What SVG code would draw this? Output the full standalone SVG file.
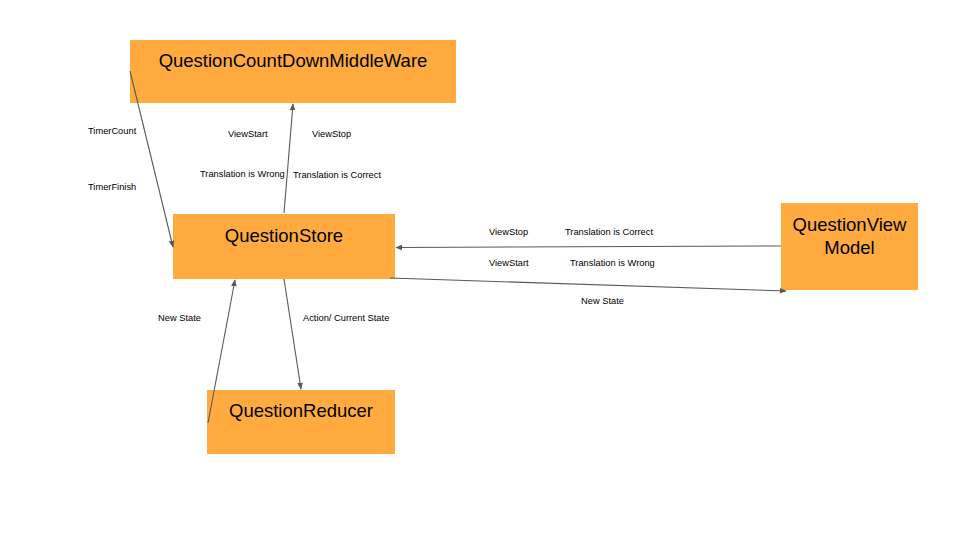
<svg xmlns="http://www.w3.org/2000/svg" width="960" height="540" viewBox="0 0 960 540">
<style>
.box{fill:#FFAB40;}
.t{font-family:"Liberation Sans",Arial,sans-serif;font-size:18.5px;fill:#000;text-anchor:middle;}
.l{font-family:"Liberation Sans",Arial,sans-serif;font-size:9.3px;fill:#000;}
.c{stroke:#595959;stroke-width:1.1;fill:none;marker-end:url(#ah);}
</style>
<defs>
<marker id="ah" viewBox="0 0 10 10" refX="9" refY="5" markerWidth="7" markerHeight="7" markerUnits="userSpaceOnUse" orient="auto">
<path d="M0,1 L10,5 L0,9 z" fill="#595959"/>
</marker>
</defs>
<rect width="960" height="540" fill="#fff"/>
<g id="countdown"><rect class="box" x="130" y="40" width="326" height="63"/><text class="t" x="293" y="66.5">QuestionCountDownMiddleWare</text></g>
<g id="store"><rect class="box" x="173" y="214" width="222" height="65"/><text class="t" x="284" y="242">QuestionStore</text></g>
<g id="viewmodel"><rect class="box" x="781" y="203" width="137" height="87"/><text class="t" x="849.5" y="231">QuestionView</text><text class="t" x="849.5" y="253.5">Model</text></g>
<g id="reducer"><rect class="box" x="207" y="390" width="188" height="64"/><text class="t" x="301" y="417">QuestionReducer</text></g>
<g id="connectors">
<line class="c" x1="130" y1="71" x2="173" y2="247"/>
<line class="c" x1="284" y1="213" x2="293" y2="104"/>
<line class="c" x1="781" y1="246" x2="396" y2="247.5"/>
<line class="c" x1="390" y1="278" x2="786" y2="291"/>
<line class="c" x1="284" y1="279" x2="301" y2="389"/>
<line class="c" x1="208" y1="423" x2="235" y2="280"/>
</g>
<g id="labels">
<text class="l" x="88" y="134">TimerCount</text>
<text class="l" x="88" y="190">TimerFinish</text>
<text class="l" x="228" y="137">ViewStart</text>
<text class="l" x="312" y="137">ViewStop</text>
<text class="l" x="200" y="177">Translation is Wrong</text>
<text class="l" x="293" y="177.5">Translation is Correct</text>
<text class="l" x="489" y="235">ViewStop</text>
<text class="l" x="565" y="235">Translation is Correct</text>
<text class="l" x="489" y="265.5">ViewStart</text>
<text class="l" x="570" y="265.5">Translation is Wrong</text>
<text class="l" x="581" y="304">New State</text>
<text class="l" x="158" y="321">New State</text>
<text class="l" x="303" y="321">Action/ Current State</text>
</g>
</svg>
